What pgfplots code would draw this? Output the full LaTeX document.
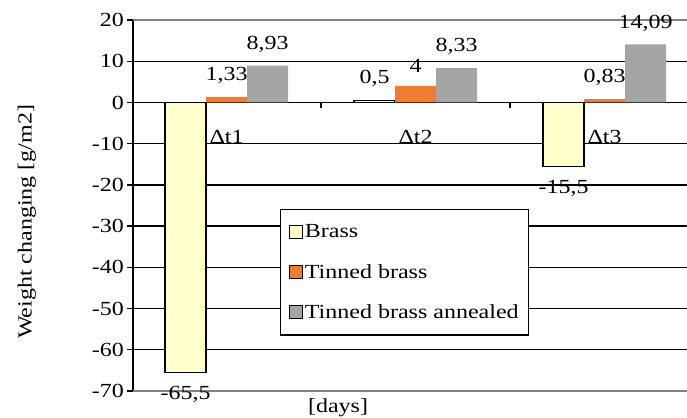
\documentclass[border=0pt]{standalone}
\usepackage{pgfplots}
\pgfplotsset{compat=1.18}
\usepackage{fontspec}
\setmainfont{Liberation Serif}[FakeStretch=1.2]
\definecolor{brassY}{HTML}{FFFFCC}
\definecolor{tinO}{HTML}{ED7D31}
\definecolor{annG}{HTML}{A5A5A5}
\pgfplotsset{sqleg/.style={legend image code/.code={\draw[##1] (0bp,-6.5bp) rectangle (13bp,6.5bp);}}}
\begin{document}
\begin{tikzpicture}[font=\fontsize{20bp}{24bp}\selectfont]
\begin{axis}[
  at={(133bp,27bp)}, anchor=south west,
  scale only axis, width=554bp, height=371bp,
  xmin=-0.495, xmax=2.436, ymin=-70, ymax=20,
  clip=false,
  ybar=0pt, bar width=0.217,
  axis x line=middle, axis y line=left,
  axis line style={-, black, line width=1.6bp},
  xtick={0.5,1.5}, xticklabels={},
  ytick={-60,-50,...,10},
  extra y ticks={-70,20},
  extra y tick style={grid style={draw=gray, line width=2.2bp}},
  ymajorgrids, grid style={black, line width=1.3bp},
  tick align=outside, major tick length=6bp,
  tick style={black, line width=1.3bp},
  /pgf/number format/assume math mode=true,
  tick label style={font=\fontsize{20bp}{24bp}\selectfont},
  yticklabel style={inner xsep=3bp},
  nodes near coords={\pgfmathprintnumber[use comma, assume math mode=true]{\pgfplotspointmeta}},
  nodes near coords align=vertical,
  every node near coord/.append style={font=\fontsize{20bp}{24bp}\selectfont, inner ysep=13bp, inner xsep=0bp, black},
  legend style={at={(0.265,0.491)}, anchor=north west, draw=black, line width=1.4bp, fill=white,
    font=\fontsize{20bp}{24bp}\selectfont, row sep=21bp, inner xsep=8bp, inner ysep=13bp,
    nodes={inner sep=2bp}},
  legend cell align=left,
]
\addplot[fill=brassY, draw=black, line width=1.3bp, sqleg]
  coordinates {(0,-65.5) (1,0.5) (2,-15.5)};
\addlegendentry{Brass}
\addplot[fill=tinO, draw=none, sqleg]
  coordinates {(0,1.33) (1,4) (2,0.83)};
\addlegendentry{Tinned brass}
\addplot[fill=annG, draw=none, sqleg]
  coordinates {(0,8.93) (1,8.33) (2,14.09)};
\addlegendentry{Tinned brass annealed}
\node[anchor=base] at (axis cs:0,-10) {Δt1};
\node[anchor=base] at (axis cs:1,-10) {Δt2};
\node[anchor=base] at (axis cs:2,-10) {Δt3};
\node[anchor=base] at (axis cs:0.59,-75.3) {[days]};
\node[rotate=90] at (axis cs:-1.056,-29) {Weight changing [g/m2]};
\end{axis}
\pgfresetboundingbox
\path[use as bounding box] (0,0) rectangle (687bp,418bp);
\end{tikzpicture}
\end{document}
